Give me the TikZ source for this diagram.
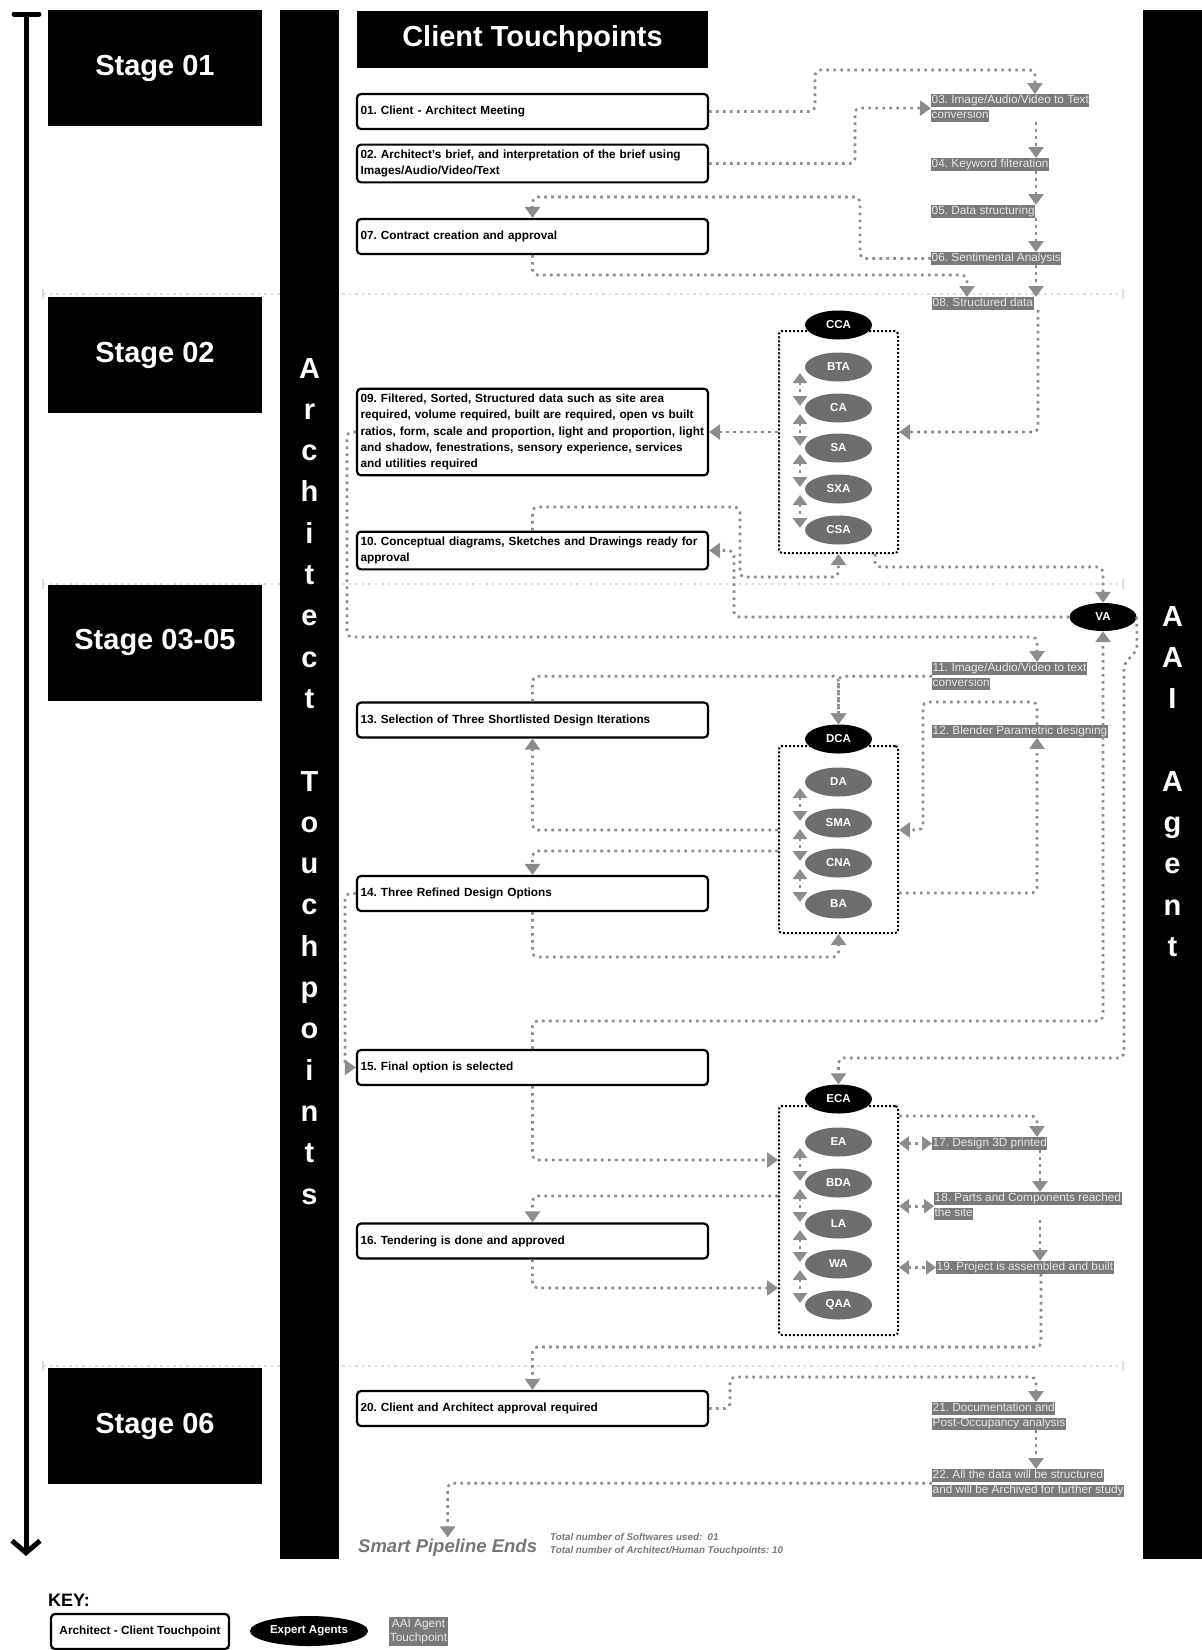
\documentclass[tikz,border=0pt]{standalone}
\usepackage{fontspec}
\setmainfont{Liberation Sans}
\frenchspacing
\usetikzlibrary{shapes.geometric, arrows.meta, positioning}
\definecolor{agentgrey}{RGB}{110,110,110}
\definecolor{labelgrey}{RGB}{122,122,122}
\definecolor{labeltext}{RGB}{232,232,232}
\definecolor{linkgrey}{RGB}{140,140,140}
\definecolor{sepgrey}{RGB}{221,221,221}
\definecolor{endgrey}{RGB}{118,118,118}
\newcommand{\aaihl}[1]{{\setlength{\fboxsep}{0.5pt}\colorbox{labelgrey}{\rule[-2.8pt]{0pt}{11.5pt}#1}}}
\tikzset{
	x=1pt, y=-1pt, % one unit is one pixel of the sketch, y runs downwards
	link/.style={draw=linkgrey, line width=2.6pt, dash pattern=on 2.6pt off 4.4pt, rounded corners=5pt, -{Triangle[width=15pt,length=11pt]}}, % grey dotted connector
	both/.style={link, {Triangle[width=14pt,length=10pt]}-{Triangle[width=14pt,length=10pt]}}, % connector with a head at each end
	touch/.style={draw, line width=2.2pt, rounded corners=4pt, fill=white, text width=344pt, inner xsep=3.5pt, inner ysep=5.2pt, minimum height=35pt, align=left, font=\bfseries\fontsize{11.8}{16.3}\selectfont}, % architect - client touchpoint
	aai/.style={anchor=north west, inner sep=0pt, align=left, text=labeltext, font=\fontsize{11.8}{15.5}\selectfont}, % AAI agent touchpoint
	agent/.style={ellipse, fill=agentgrey, text=white, minimum width=67pt, minimum height=29pt, inner sep=0pt, font=\bfseries\fontsize{11.5}{13}\selectfont}, % expert agent
	lead/.style={agent, fill=black}, % coordinating agent
	group/.style={draw, line width=2pt, dash pattern=on 2pt off 2pt, rounded corners=3pt}, % box round a set of agents
	stagebox/.style={fill=black, text=white, minimum width=214pt, minimum height=116pt, font=\bfseries\fontsize{29}{34}\selectfont},
	column/.style={fill=black, minimum width=59pt, minimum height=1549.5pt, inner sep=0pt},
	colletter/.style={text=white, anchor=base, inner sep=0pt, font=\bfseries\fontsize{29}{34}\selectfont},
	sep/.style={draw=sepgrey, line width=2.5pt, dash pattern=on 2.5pt off 4pt},
}

\begin{document}
\begin{tikzpicture}
	\useasboundingbox (0,0) rectangle (1202,1650);
	% stage separators
	\foreach \y in {294,584,1366} {
		\draw[sep] (43,\y) -- (1123,\y);
		\draw[sepgrey, line width=2.5pt] (43,\y-5) -- (43,\y+5) (1123,\y-5) -- (1123,\y+5);
	}
	% time line
	\draw[line width=5pt, -{Straight Barb[length=12pt,width=28pt]}] (26,14) -- (26,1556);
	\draw[line width=5pt, line cap=round] (14,14) -- (39,14);
	% side columns
	\node[column] (colA) at (309.5,784.25) {};
	\node[column] (colB) at (1172.5,784.25) {};
	\foreach \ch [count=\i from 0] in {A,r,c,h,i,t,e,c,t,{},T,o,u,c,h,p,o,i,n,t,s}
		\node[colletter] (arch\i) at (309.5,378+41.3*\i) {\ch};
	\foreach \ch [count=\i from 0] in {A,A,I,{},A,g,e,n,t}
		\node[colletter] (aai\i) at (1172.5,626+41.3*\i) {\ch};
	% stages
	\node[stagebox] (st1) at (155,68) {Stage 01};
	\node[stagebox] (st2) at (155,355) {Stage 02};
	\node[stagebox] (st3) at (155,642.5) {Stage 03-05};
	\node[stagebox] (st4) at (155,1426) {Stage 06};
	\node[fill=black, text=white, minimum width=351pt, minimum height=57pt, font=\bfseries\fontsize{29}{34}\selectfont] (ct) at (532.5,39) {Client Touchpoints};
	% client touchpoints
	\node[touch] (t01) at (532.5,111.5) {01. Client - Architect Meeting};
	\node[touch] (t02) at (532.5,163.5) {02. Architect's brief, and interpretation of the brief using\\Images/Audio/Video/Text};
	\node[touch] (t07) at (532.5,236.5) {07. Contract creation and approval};
	\node[touch] (t09) at (532.5,432) {09. Filtered, Sorted, Structured data such as site area\\required, volume required, built are required, open vs built\\ratios, form, scale and proportion, light and proportion, light\\and shadow, fenestrations, sensory experience, services\\and utilities required};
	\node[touch] (t10) at (532.5,550.5) {10. Conceptual diagrams, Sketches and Drawings ready for\\approval};
	\node[touch] (t13) at (532.5,720) {13. Selection of Three Shortlisted Design Iterations};
	\node[touch] (t14) at (532.5,893.5) {14. Three Refined Design Options};
	\node[touch] (t15) at (532.5,1067.5) {15. Final option is selected};
	\node[touch] (t16) at (532.5,1241) {16. Tendering is done and approved};
	\node[touch] (t20) at (532.5,1408.5) {20. Client and Architect approval required};
	% AAI agent touchpoints
	\node[aai] (a03) at (931,94) {\aaihl{03. Image/Audio/Video to Text}\\\aaihl{conversion}};
	\node[aai] (a04) at (931,158) {\aaihl{04. Keyword filteration}};
	\node[aai] (a05) at (931,205) {\aaihl{05. Data structuring}};
	\node[aai] (a06) at (931,252) {\aaihl{06. Sentimental Analysis}};
	\node[aai] (a08) at (932,297) {\aaihl{08. Structured data}};
	\node[aai] (a11) at (932,662) {\aaihl{11. Image/Audio/Video to text}\\\aaihl{conversion}};
	\node[aai] (a12) at (932,725) {\aaihl{12. Blender Parametric designing}};
	\node[aai] (a17) at (932,1137) {\aaihl{17. Design 3D printed}};
	\node[aai] (a18) at (934,1192) {\aaihl{18. Parts and Components reached}\\\aaihl{the site}};
	\node[aai] (a19) at (936,1261) {\aaihl{19. Project is assembled and built}};
	\node[aai] (a21) at (932,1402) {\aaihl{21. Documentation and}\\\aaihl{Post-Occupancy analysis}};
	\node[aai] (a22) at (932,1469) {\aaihl{22. All the data will be structured}\\\aaihl{and will be Archived for further study}};
	% agent groups
	\node[group, minimum width=119pt, minimum height=222pt] (grpC) at (838.5,442) {};
	\node[group, minimum width=119pt, minimum height=187pt] (grpD) at (838.5,839.5) {};
	\node[group, minimum width=119pt, minimum height=229pt] (grpE) at (838.5,1220.5) {};
	\node[lead] (cca) at (838.5,325) {CCA};
	\foreach \n/\t/\y in {bta/BTA/367, ca/CA/408, sa/SA/448, sxa/SXA/489, csa/CSA/530}
		\node[agent] (\n) at (838.5,\y) {\t};
	\node[lead] (dca) at (838.5,739) {DCA};
	\foreach \n/\t/\y in {da/DA/782, sma/SMA/823, cna/CNA/863, ba/BA/904}
		\node[agent] (\n) at (838.5,\y) {\t};
	\node[lead] (eca) at (838.5,1099) {ECA};
	\foreach \n/\t/\y in {ea/EA/1142, bda/BDA/1183, la/LA/1224, wa/WA/1264, qaa/QAA/1305}
		\node[agent] (\n) at (838.5,\y) {\t};
	\node[lead, minimum height=28pt] (va) at (1103,617) {VA};
	\foreach \a/\b in {bta/ca, ca/sa, sa/sxa, sxa/csa, da/sma, sma/cna, cna/ba, ea/bda, bda/la, la/wa, wa/qaa}
		\draw[both] ([xshift=-38.5pt,yshift=-6pt]\a.center) -- ([xshift=-38.5pt,yshift=2pt]\b.center);
	% stage 01 and 02
	\draw[link] (t01.east) -| (815,70) -| (1035,0 |- a03.north);
	\draw[link] (t02.east) -| (855,108) -- (a03.west);
	\foreach \a/\b in {a03/a04, a04/a05, a05/a06, a06/a08}
		\draw[link] (1036,0 |- \a.south) -- (1036,0 |- \b.north);
	\draw[link] (a06.west) -| (860,197) -| (t07.north);
	\draw[link] (t07.south) |- (967,275) -- (967,0 |- a08.north);
	\draw[link] (1038,0 |- a08.south) |- (grpC.east |- t09.east);
	\draw[link] (grpC.west |- t09.east) -- (t09.east);
	\draw[link] (t10.north) |- (740,507) |- (838.5,577) -- (grpC.south);
	\draw[link] (875,0 |- grpC.south) -- (875,567) -| (va.north);
	\draw[link] (va.west) -| (734,550.5) -- (t10.east);
	% stage 03-05
	\draw[link] (t09.west) -| (347,637) -| (1037,0 |- a11.north);
	\draw[link] (a11.west) -| (dca.north);
	\draw[link] (t13.north) |- (dca.north |- a11.west) -- (dca.north);
	\draw[link] (1037,0 |- a12.north) |- (923,702) |- (grpD.east |- 0,830);
	\draw[link] (grpD.east |- 0,893) -| (1037,0 |- a12.south);
	\draw[link] (grpD.west |- 0,830) -| (t13.south);
	\draw[link] (grpD.west |- 0,851) -| (t14.north);
	\draw[link] (t14.south) |- (838.5,957) -- (grpD.south);
	\draw[link] (t14.west) -| (345,1067.5) -- (t15.west);
	\draw[link] (t15.north) |- (1103,1021) -- (va.south);
	\draw[link] (va.east) -- (1137,650) -- (1124,664) -- (1124,1058) -| (eca.north);
	\draw[link] (t15.south) |- (grpE.west |- 0,1160);
	\draw[link] (grpE.west |- 0,1196) -| (t16.north);
	\draw[link] (t16.south) |- (grpE.west |- 0,1288);
	\draw[link] (grpE.east |- 0,1116) -| (1037,0 |- a17.north);
	\foreach \a in {a17, a18, a19}
		\draw[both] (grpE.east |- \a.west) -- (\a.west);
	\draw[link] (1040,0 |- a17.south) -- (1040,0 |- a18.north);
	\draw[link] (1040,0 |- a18.south) -- (1040,0 |- a19.north);
	% stage 06
	\draw[link] (1041,0 |- a19.south) |- (t20.north |- 0,1347) -- (t20.north);
	\draw[link] (t20.east) -| (730,1377) -| (1036,0 |- a21.north);
	\draw[link] (1036,0 |- a21.south) -- (1036,0 |- a22.north);
	\node[anchor=base west, inner sep=1pt, text=endgrey, font=\bfseries\itshape\fontsize{18.5}{22}\selectfont] (endtxt) at (357,1552) {Smart Pipeline Ends};
	\node[anchor=north west, inner sep=0pt, align=left, text=endgrey, font=\bfseries\itshape\fontsize{9.8}{13.5}\selectfont] (totals) at (550,1533) {Total number of Softwares used:\ \ 01\\Total number of Architect/Human Touchpoints: 10};
	\draw[link] (a22.west) -| (endtxt.north);
	% key
	\node[anchor=west, inner sep=0pt, font=\bfseries\fontsize{18}{22}\selectfont] (key) at (48,1600) {KEY:};
	\node[draw, line width=2.2pt, rounded corners=4pt, minimum width=178pt, minimum height=35pt, font=\bfseries\fontsize{11.8}{14}\selectfont] (keytouch) at (140,1631.5) {Architect - Client Touchpoint};
	\node[lead, minimum width=118pt, minimum height=30pt, font=\bfseries\fontsize{11.5}{14}\selectfont] (keyagent) at (309,1631) {Expert Agents};
	\node[fill=labelgrey, text=labeltext, inner sep=0.5pt, minimum width=59pt, minimum height=29pt, align=center, font=\fontsize{11.8}{14}\selectfont] (keyaai) at (418.5,1631.5) {AAI Agent\\Touchpoint};
\end{tikzpicture}
\end{document}
